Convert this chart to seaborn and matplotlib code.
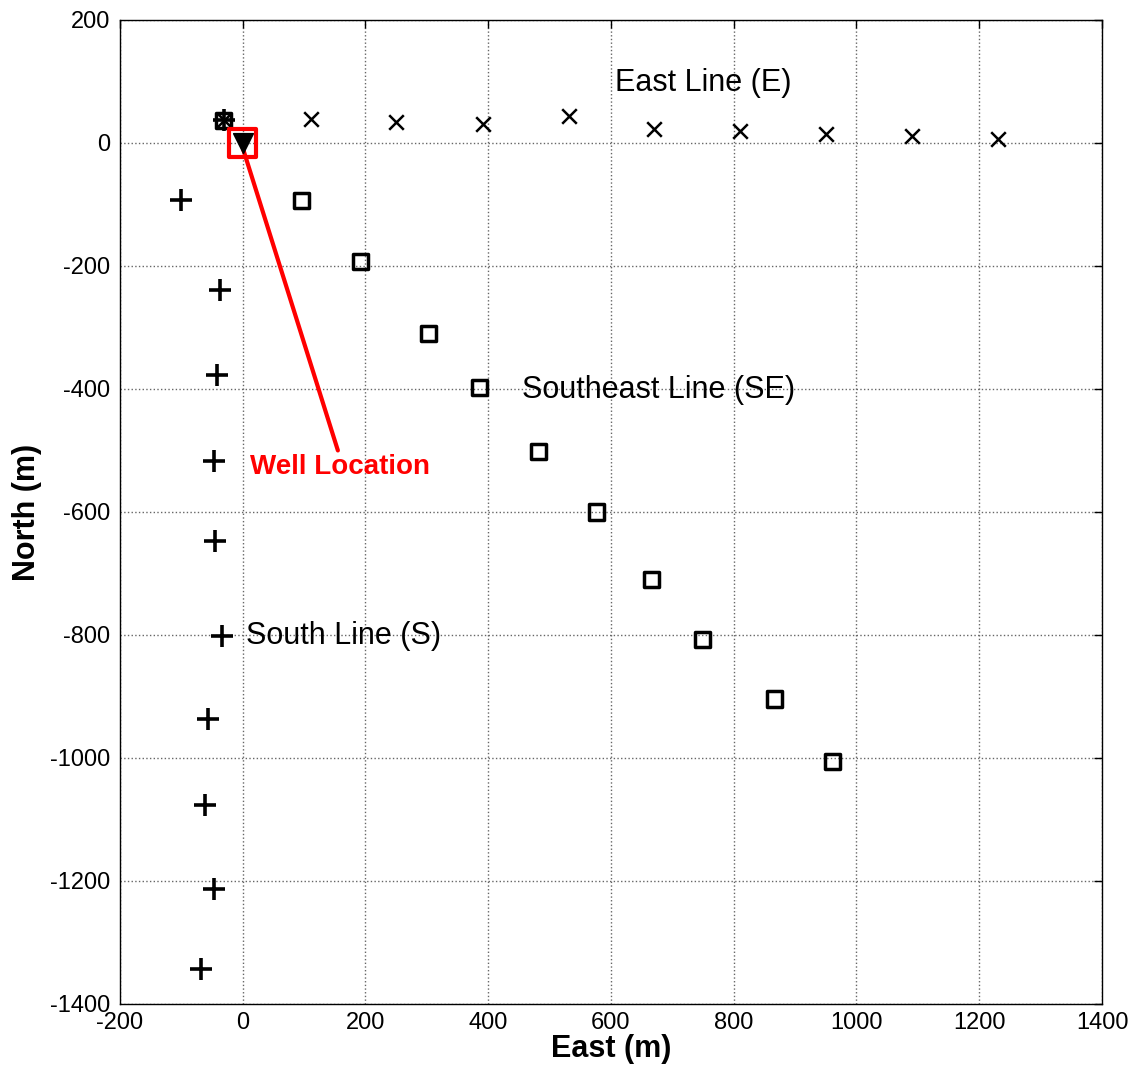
import matplotlib
matplotlib.use("Agg")
import matplotlib.pyplot as plt
import seaborn as sns
import numpy as np

sns.set_theme(style="white")
plt.rcParams['font.family'] = ['Liberation Sans', 'DejaVu Sans']
plt.rcParams['axes.unicode_minus'] = False
plt.rcParams['text.color'] = 'black'
plt.rcParams['axes.labelcolor'] = 'black'
plt.rcParams['xtick.color'] = 'black'
plt.rcParams['ytick.color'] = 'black'

# Data
start_e, start_n = -31, 37
east_e = [111, 249, 391, 531, 670, 810, 950, 1090, 1230]
east_n = [39, 34, 31, 44, 23, 19, 15, 11, 7]
se_e = [96, 192, 303, 386, 482, 577, 666, 749, 867, 961]
se_n = [-93, -193, -310, -397, -502, -600, -710, -808, -904, -1006]
s_e = [-101, -37, -42, -47, -46, -34, -57, -62, -47, -68]
s_n = [-93, -239, -377, -517, -647, -801, -937, -1076, -1213, -1343]
well_e, well_n = [0], [0]
pointer_e, pointer_n = [0, 155], [-8, -500]

fig = plt.figure(figsize=(11.32, 10.68), dpi=100)
ax = fig.add_axes([0.106, 0.06, 0.8675, 0.9213])

sns.scatterplot(x=se_e + [start_e], y=se_n + [start_n], marker='s', s=120,
                facecolors='none', edgecolor='black', linewidth=2.5, ax=ax, zorder=3)
sns.scatterplot(x=s_e + [start_e], y=s_n + [start_n], marker='+', s=240,
                color='black', linewidth=2.6, ax=ax, zorder=3)
sns.scatterplot(x=east_e + [start_e], y=east_n + [start_n], marker='x', s=110,
                color='black', linewidth=1.8, ax=ax, zorder=3)
sns.lineplot(x=pointer_e, y=pointer_n, color='red', linewidth=3, ax=ax, zorder=3,
             sort=False, estimator=None)
sns.scatterplot(x=well_e, y=well_n, marker='v', s=200, color='black',
                edgecolor='black', ax=ax, zorder=4)
sns.scatterplot(x=well_e, y=well_n, marker='s', s=380, facecolors='none',
                edgecolor='red', linewidth=3, ax=ax, zorder=5)

ax.text(12, -527, 'Well Location', color='red', fontsize=20, fontweight='bold',
        va='center', ha='left')
ax.text(606, 97, 'East Line (E)', fontsize=22, va='center', ha='left')
ax.text(455, -402, 'Southeast Line (SE)', fontsize=22, va='center', ha='left')
ax.text(5, -802, 'South Line (S)', fontsize=22, va='center', ha='left')

ax.set_xlim(-200, 1400)
ax.set_ylim(-1400, 200)
ax.set_xticks(np.arange(-200, 1401, 200))
ax.set_yticks(np.arange(-1400, 201, 200))
ax.tick_params(direction='in', top=True, right=True, labelsize=17, length=6, width=1)
ax.tick_params(axis='y', pad=7)
ax.tick_params(axis='x', pad=6)
ax.grid(True, linestyle=':', color='#666666', linewidth=1)
for sp in ax.spines.values():
    sp.set_color('black')
    sp.set_linewidth(1)
ax.set_xlabel('East (m)', fontsize=22, fontweight='bold', labelpad=0)
ax.set_ylabel('North (m)', fontsize=22, fontweight='bold', labelpad=6)

fig.savefig('out.png', dpi=100)
